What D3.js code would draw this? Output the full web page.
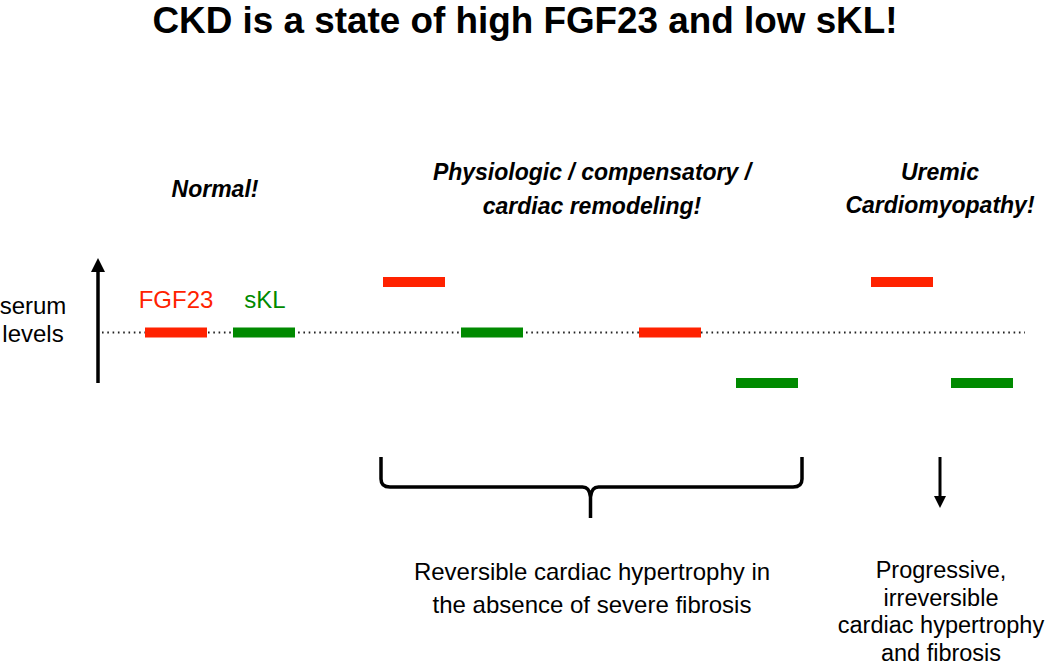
<!DOCTYPE html>
<html>
<head>
<meta charset="utf-8">
<script src="https://cdn.jsdelivr.net/npm/d3@7"></script>
<style>
  html, body { margin: 0; padding: 0; background: #fff; }
  svg { display: block; font-family: "Liberation Sans", Arial, sans-serif; }
</style>
</head>
<body>
<svg id="chart" width="1050" height="667"></svg>
<script>
// ---- data ----
const title = "CKD is a state of high FGF23 and low sKL!";
const stageLines = [["Normal!"], ["Physiologic / compensatory /", "cardiac remodeling!"], ["Uremic", "Cardiomyopathy!"]];
const markers = ["FGF23", "sKL"];
const barStage = [0, 0, 1, 1, 1, 1, 2, 2];
const barMarker = ["FGF23", "sKL", "FGF23", "sKL", "FGF23", "sKL", "FGF23", "sKL"];
const barLevel = [0, 0, 1, 0, 0, -1, 1, -1]; // 1 = high, 0 = normal, -1 = low
const axisLabel = ["serum", "levels"];
const outcomeLeft = ["Reversible cardiac hypertrophy in", "the absence of severe fibrosis"];
const outcomeRight = ["Progressive,", "irreversible", "cardiac hypertrophy", "and fibrosis"];

// ---- scales ----
const svg = d3.select("#chart");
const color = d3.scaleOrdinal().domain(markers).range(["#ff2200", "#008a00"]);
const y = d3.scaleLinear().domain([-1, 1]).range([383, 282]);
const barIdx = d3.range(barLevel.length);
const x = d3.scaleOrdinal().domain(barIdx).range([145, 233, 383, 461, 639, 736, 871, 951]);
const barW = 62, barH = 10;

// title
svg.append("text")
  .attr("x", 525).attr("y", 33)
  .attr("text-anchor", "middle")
  .attr("font-size", 36).attr("font-weight", "bold")
  .attr("textLength", 745).attr("lengthAdjust", "spacingAndGlyphs")
  .text(title);

// stage labels
const stageX = [215, 592, 940];
const stageY = [[197], [180, 214], [180, 213]];
stageLines.forEach((lines, i) => {
  lines.forEach((ln, j) => {
    svg.append("text")
      .attr("x", stageX[i]).attr("y", stageY[i][j])
      .attr("text-anchor", "middle")
      .attr("font-size", 23).attr("font-weight", "bold").attr("font-style", "italic")
      .text(ln);
  });
});

// y-axis label
axisLabel.forEach((t, i) => {
  svg.append("text").attr("x", 33).attr("y", 314 + i * 28)
    .attr("text-anchor", "middle").attr("font-size", 24).text(t);
});

// arrow marker
const defs = svg.append("defs");
defs.append("marker").attr("id", "ah").attr("viewBox", "0 0 10 10")
  .attr("refX", 5).attr("refY", 5).attr("markerWidth", 4).attr("markerHeight", 5)
  .attr("markerUnits", "strokeWidth").attr("orient", "auto")
  .append("path").attr("d", "M0,0 L10,5 L0,10 Z").attr("fill", "#000");

// up arrow (serum level axis)
svg.append("line")
  .attr("x1", 98).attr("x2", 98).attr("y1", y(-1)).attr("y2", y(1) - 17)
  .attr("stroke", "#000").attr("stroke-width", 3.5)
  .attr("marker-end", "url(#ah)");

// dotted normal-level line
svg.append("line")
  .attr("x1", 102).attr("x2", 1025).attr("y1", y(0)).attr("y2", y(0))
  .attr("stroke", "#222").attr("stroke-width", 2)
  .attr("stroke-dasharray", "1.6,3.7");

// legend labels
svg.append("text").attr("x", x(0) + barW / 2).attr("y", 308)
  .attr("text-anchor", "middle").attr("font-size", 24)
  .attr("fill", color("FGF23")).text("FGF23");
svg.append("text").attr("x", x(1) + barW / 2 + 1).attr("y", 308)
  .attr("text-anchor", "middle").attr("font-size", 24)
  .attr("fill", color("sKL")).text("sKL");

// bars
svg.selectAll("rect.bar").data(barIdx).enter().append("rect")
  .attr("class", "bar")
  .attr("x", d => x(d))
  .attr("y", d => y(barLevel[d]) - barH / 2)
  .attr("width", barW).attr("height", barH)
  .attr("fill", d => color(barMarker[d]));

// brace over stage-1 outcome
const bx0 = 381, bx1 = 802, bTop = 457, bMid = 487, bTip = 518, bc = (bx0 + bx1) / 2 - 1;
const brace = `M${bx0},${bTop} L${bx0},${bMid - 8} Q${bx0},${bMid} ${bx0 + 9},${bMid}
  L${bc - 8},${bMid} Q${bc - 1},${bMid} ${bc},${bMid + 10} L${bc},${bTip}
  M${bc},${bMid + 10} Q${bc + 1},${bMid} ${bc + 8},${bMid}
  L${bx1 - 9},${bMid} Q${bx1},${bMid} ${bx1},${bMid - 8} L${bx1},${bTop}`;
svg.append("path").attr("d", brace).attr("fill", "none")
  .attr("stroke", "#000").attr("stroke-width", 3.5).attr("stroke-linejoin", "round");

// down arrow for stage 2
svg.append("line")
  .attr("x1", 940).attr("x2", 940).attr("y1", 457).attr("y2", 502)
  .attr("stroke", "#000").attr("stroke-width", 3)
  .attr("marker-end", "url(#ah)");

// outcome texts
outcomeLeft.forEach((t, i) => {
  svg.append("text").attr("x", 592).attr("y", 580 + i * 33)
    .attr("text-anchor", "middle").attr("font-size", 24).text(t);
});
outcomeRight.forEach((t, i) => {
  svg.append("text").attr("x", 941).attr("y", 578 + i * 27.5)
    .attr("text-anchor", "middle").attr("font-size", 23.5).text(t);
});
</script>
</body>
</html>
